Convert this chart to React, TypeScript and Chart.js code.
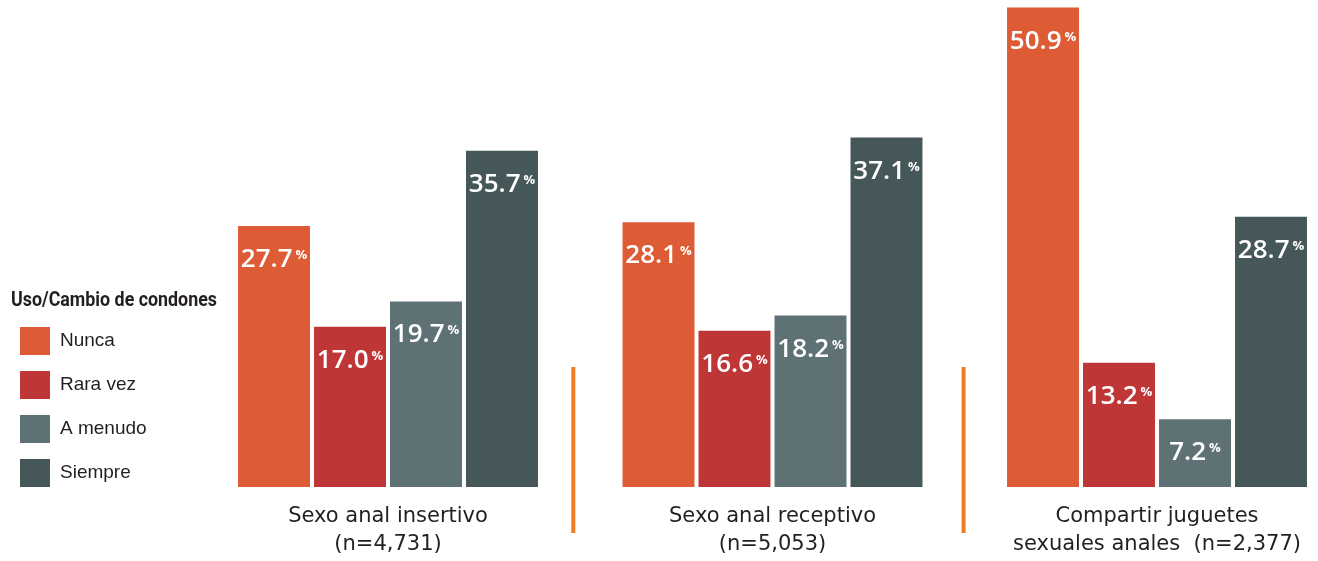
import React, { useEffect, useRef } from "react";
import { Chart, registerables } from "chart.js";

Chart.register(...registerables);

const categories: string[][] = [
  ["Sexo anal insertivo", "(n=4,731)"],
  ["Sexo anal receptivo", "(n=5,053)"],
  ["Compartir juguetes", "sexuales anales  (n=2,377)"],
];
const seriesNames = ["Nunca", "Rara vez", "A menudo", "Siempre"];
const nunca = [27.7, 28.1, 50.9];
const raraVez = [17.0, 16.6, 13.2];
const aMenudo = [19.7, 18.2, 7.2];
const siempre = [35.7, 37.1, 28.7];
const seriesColors = ["#DE5C35", "#BF3636", "#5E7276", "#46575A"];
const legendTitle = "Uso/Cambio de condones";
const separatorFractions = [0.482, 0.497];
const yMax = 51.7;

const textColor = "#231F20";

const valueLabelPlugin = {
  id: "valueLabels",
  afterDatasetsDraw(chart: any) {
    const ctx = chart.ctx;
    ctx.save();
    chart.data.datasets.forEach((ds: any, di: number) => {
      const meta = chart.getDatasetMeta(di);
      meta.data.forEach((bar: any, i: number) => {
        const num = Number(ds.data[i]).toFixed(1);
        ctx.font = '600 26px "Open Sans", "Liberation Sans", sans-serif';
        const w1 = ctx.measureText(num).width;
        ctx.font = 'bold 13px "Open Sans", "Liberation Sans", sans-serif';
        const w2 = ctx.measureText("%").width;
        const gap = 3;
        const start = bar.x - (w1 + gap + w2) / 2;
        const base = bar.y + 41;
        ctx.fillStyle = "#FFFFFF";
        ctx.textAlign = "left";
        ctx.textBaseline = "alphabetic";
        ctx.font = '600 26px "Open Sans", "Liberation Sans", sans-serif';
        ctx.fillText(num, start, base);
        ctx.font = 'bold 13px "Open Sans", "Liberation Sans", sans-serif';
        ctx.fillText("%", start + w1 + gap, base - 8);
      });
    });
    ctx.restore();
  },
};

const separatorPlugin = {
  id: "separators",
  beforeDatasetsDraw(chart: any) {
    const ctx = chart.ctx;
    const xs = chart.scales.x;
    const area = chart.chartArea;
    ctx.save();
    ctx.strokeStyle = "#EE7D22";
    ctx.lineWidth = 4;
    for (let i = 0; i < categories.length - 1; i++) {
      const a = xs.getPixelForTick(i);
      const b = xs.getPixelForTick(i + 1);
      const x = a + (b - a) * separatorFractions[i];
      ctx.beginPath();
      ctx.moveTo(x, area.bottom - 120);
      ctx.lineTo(x, area.bottom + 46);
      ctx.stroke();
    }
    ctx.restore();
  },
};

const legendPlugin = {
  id: "customLegend",
  afterDraw(chart: any) {
    const ctx = chart.ctx;
    ctx.save();
    ctx.font = 'bold 21px "Liberation Sans Narrow", "Roboto", "Liberation Sans", sans-serif';
    const tw = ctx.measureText(legendTitle).width;
    const sx = 206 / tw;
    ctx.fillStyle = textColor;
    ctx.textAlign = "left";
    ctx.textBaseline = "alphabetic";
    ctx.save();
    ctx.translate(11, 306);
    ctx.scale(sx, 1);
    ctx.fillText(legendTitle, 0, 0);
    ctx.restore();
    chart.data.datasets.forEach((ds: any, i: number) => {
      const y = 327 + i * 44;
      ctx.fillStyle = ds.backgroundColor;
      ctx.fillRect(20, y, 30, 28);
      ctx.fillStyle = textColor;
      ctx.font = '19px "Liberation Sans", sans-serif';
      ctx.textBaseline = "middle";
      ctx.fillText(ds.label, 60, y + 14);
    });
    ctx.restore();
  },
};

export default function App() {
  const ref = useRef<HTMLCanvasElement | null>(null);
  useEffect(() => {
    if (!ref.current) return;
    const seriesValues = [nunca, raraVez, aMenudo, siempre];
    const chart = new Chart(ref.current, {
      type: "bar",
      data: {
        labels: categories,
        datasets: seriesNames.map((name, i) => ({
          label: name,
          data: seriesValues[i],
          backgroundColor: seriesColors[i],
          borderWidth: 0,
          categoryPercentage: 0.7906,
          barPercentage: 0.947,
          clip: false as any,
        })),
      },
      options: {
        animation: false,
        responsive: true,
        maintainAspectRatio: false,
        layout: { padding: { left: 388, right: 161, top: 0, bottom: -14 } },
        plugins: {
          legend: { display: false },
          tooltip: { enabled: false },
        },
        scales: {
          x: {
            offset: false,
            grid: { display: false, drawTicks: false },
            border: { display: false },
            ticks: {
              autoSkip: false,
              maxRotation: 0,
              minRotation: 0,
              padding: 16,
              color: textColor,
              font: { family: '"DejaVu Sans", sans-serif', size: 21, lineHeight: 1.3333 },
            },
          },
          y: {
            display: false,
            min: 0,
            max: yMax,
          },
        },
      },
      plugins: [separatorPlugin, valueLabelPlugin, legendPlugin],
    });
    return () => chart.destroy();
  }, []);
  return (
    <div style={{ position: "fixed", left: 0, top: 0, width: 1318, height: 561, background: "#fff" }}>
      <canvas ref={ref} />
    </div>
  );
}
